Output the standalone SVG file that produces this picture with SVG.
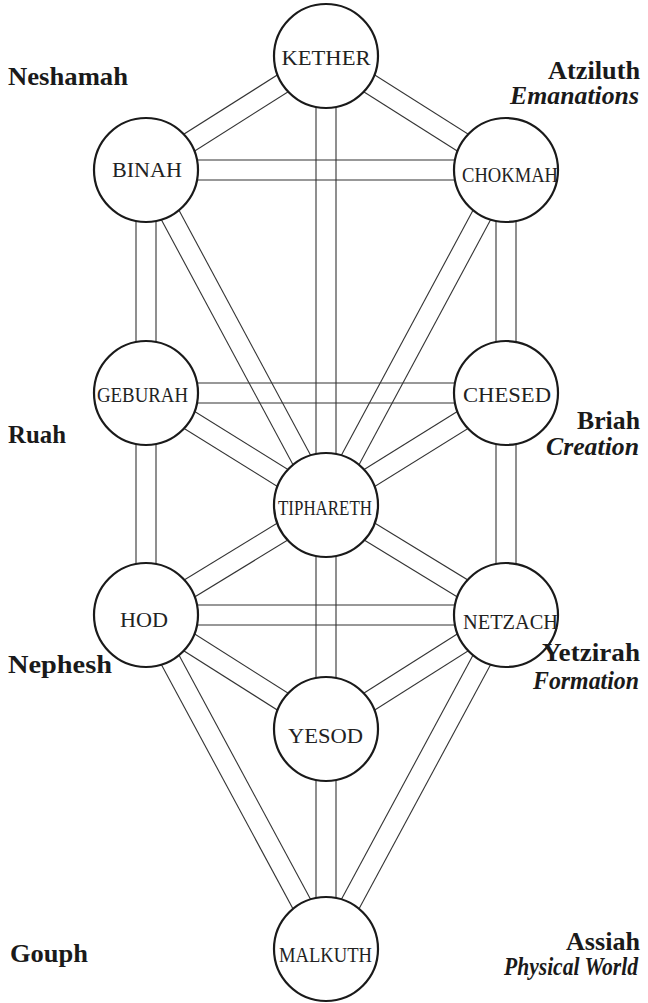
<svg xmlns="http://www.w3.org/2000/svg" width="648" height="1003" viewBox="0 0 648 1003">
<style>
.ch line{stroke:#333;stroke-width:1.1}
.node circle{fill:#fff;stroke:#1a1a1a;stroke-width:2.2}
.node text{font-family:"Liberation Serif","DejaVu Serif","Noto Serif","Times New Roman",serif;font-size:22px;fill:#222;text-anchor:middle}
.lab{font-family:"Liberation Serif","DejaVu Serif","Noto Serif","Times New Roman",serif;font-size:25px;font-weight:bold;fill:#1a1a1a}
.r{text-anchor:end}
.it{font-style:italic}
</style>
<rect width="648" height="1003" fill="#fff"/>
<g id="connectors" class="ch">
<line x1="320.65" y1="47.55" x2="140.65" y2="161.55"/><line x1="331.35" y1="64.45" x2="151.35" y2="178.45"/>
<line x1="320.65" y1="64.45" x2="500.65" y2="178.45"/><line x1="331.35" y1="47.55" x2="511.35" y2="161.55"/>
<line x1="316" y1="56" x2="316" y2="505"/><line x1="336" y1="56" x2="336" y2="505"/>
<line x1="146" y1="160" x2="506" y2="160"/><line x1="146" y1="180" x2="506" y2="180"/>
<line x1="136" y1="170" x2="136" y2="393"/><line x1="156" y1="170" x2="156" y2="393"/>
<line x1="137.19" y1="174.73" x2="317.19" y2="509.73"/><line x1="154.81" y1="165.27" x2="334.81" y2="500.27"/>
<line x1="496" y1="170" x2="496" y2="393"/><line x1="516" y1="170" x2="516" y2="393"/>
<line x1="497.19" y1="165.27" x2="317.19" y2="500.27"/><line x1="514.81" y1="174.73" x2="334.81" y2="509.73"/>
<line x1="146" y1="383" x2="506" y2="383"/><line x1="146" y1="403" x2="506" y2="403"/>
<line x1="140.72" y1="401.49" x2="320.72" y2="513.49"/><line x1="151.28" y1="384.51" x2="331.28" y2="496.51"/>
<line x1="500.72" y1="384.51" x2="320.72" y2="496.51"/><line x1="511.28" y1="401.49" x2="331.28" y2="513.49"/>
<line x1="136" y1="393" x2="136" y2="615"/><line x1="156" y1="393" x2="156" y2="615"/>
<line x1="496" y1="393" x2="496" y2="615"/><line x1="516" y1="393" x2="516" y2="615"/>
<line x1="320.79" y1="496.47" x2="140.79" y2="606.47"/><line x1="331.21" y1="513.53" x2="151.21" y2="623.53"/>
<line x1="320.79" y1="513.53" x2="500.79" y2="623.53"/><line x1="331.21" y1="496.47" x2="511.21" y2="606.47"/>
<line x1="316" y1="505" x2="316" y2="729"/><line x1="336" y1="505" x2="336" y2="729"/>
<line x1="146" y1="605" x2="506" y2="605"/><line x1="146" y1="625" x2="506" y2="625"/>
<line x1="140.65" y1="623.45" x2="320.65" y2="737.45"/><line x1="151.35" y1="606.55" x2="331.35" y2="720.55"/>
<line x1="500.65" y1="606.55" x2="320.65" y2="720.55"/><line x1="511.35" y1="623.45" x2="331.35" y2="737.45"/>
<line x1="137.2" y1="619.74" x2="317.2" y2="953.74"/><line x1="154.8" y1="610.26" x2="334.8" y2="944.26"/>
<line x1="497.2" y1="610.26" x2="317.2" y2="944.26"/><line x1="514.8" y1="619.74" x2="334.8" y2="953.74"/>
<line x1="316" y1="729" x2="316" y2="949"/><line x1="336" y1="729" x2="336" y2="949"/>
</g>
<g id="kether" class="node"><circle cx="326" cy="56" r="52"/><text x="326" y="65" textLength="89" lengthAdjust="spacingAndGlyphs">KETHER</text></g>
<g id="binah" class="node"><circle cx="146" cy="170" r="52"/><text x="147" y="177" textLength="70" lengthAdjust="spacingAndGlyphs">BINAH</text></g>
<g id="chokmah" class="node"><circle cx="506" cy="170" r="52"/><text x="510" y="182" textLength="96" lengthAdjust="spacingAndGlyphs">CHOKMAH</text></g>
<g id="geburah" class="node"><circle cx="146" cy="393" r="52"/><text x="142.5" y="402" textLength="91" lengthAdjust="spacingAndGlyphs">GEBURAH</text></g>
<g id="chesed" class="node"><circle cx="506" cy="393" r="52"/><text x="507" y="402" textLength="88" lengthAdjust="spacingAndGlyphs">CHESED</text></g>
<g id="tiphareth" class="node"><circle cx="326" cy="505" r="52"/><text x="325" y="515" textLength="94" lengthAdjust="spacingAndGlyphs">TIPHARETH</text></g>
<g id="hod" class="node"><circle cx="146" cy="615" r="52"/><text x="144" y="627" textLength="48" lengthAdjust="spacingAndGlyphs">HOD</text></g>
<g id="netzach" class="node"><circle cx="506" cy="615" r="52"/><text x="510.5" y="629" textLength="95" lengthAdjust="spacingAndGlyphs">NETZACH</text></g>
<g id="yesod" class="node"><circle cx="326" cy="729" r="52"/><text x="325.5" y="743" textLength="75" lengthAdjust="spacingAndGlyphs">YESOD</text></g>
<g id="malkuth" class="node"><circle cx="326" cy="949" r="52"/><text x="325.5" y="962" textLength="93" lengthAdjust="spacingAndGlyphs">MALKUTH</text></g>
<g id="labels">
<text class="lab" x="8" y="85" textLength="120" lengthAdjust="spacingAndGlyphs">Neshamah</text>
<text class="lab" x="8" y="443" textLength="58" lengthAdjust="spacingAndGlyphs">Ruah</text>
<text class="lab" x="8" y="673" textLength="104" lengthAdjust="spacingAndGlyphs">Nephesh</text>
<text class="lab" x="10" y="962" textLength="78" lengthAdjust="spacingAndGlyphs">Gouph</text>
<text class="lab r" x="640" y="79" textLength="92" lengthAdjust="spacingAndGlyphs">Atziluth</text>
<text class="lab r it" x="639" y="104" textLength="129" lengthAdjust="spacingAndGlyphs">Emanations</text>
<text class="lab r" x="640" y="429" textLength="63" lengthAdjust="spacingAndGlyphs">Briah</text>
<text class="lab r it" x="639" y="455" textLength="93" lengthAdjust="spacingAndGlyphs">Creation</text>
<text class="lab r" x="640" y="661" textLength="98" lengthAdjust="spacingAndGlyphs">Yetzirah</text>
<text class="lab r it" x="639" y="689" textLength="106" lengthAdjust="spacingAndGlyphs">Formation</text>
<text class="lab r" x="640" y="950" textLength="74" lengthAdjust="spacingAndGlyphs">Assiah</text>
<text class="lab r it" x="638" y="975" font-size="22" textLength="134" lengthAdjust="spacingAndGlyphs">Physical World</text>
</g>
</svg>
